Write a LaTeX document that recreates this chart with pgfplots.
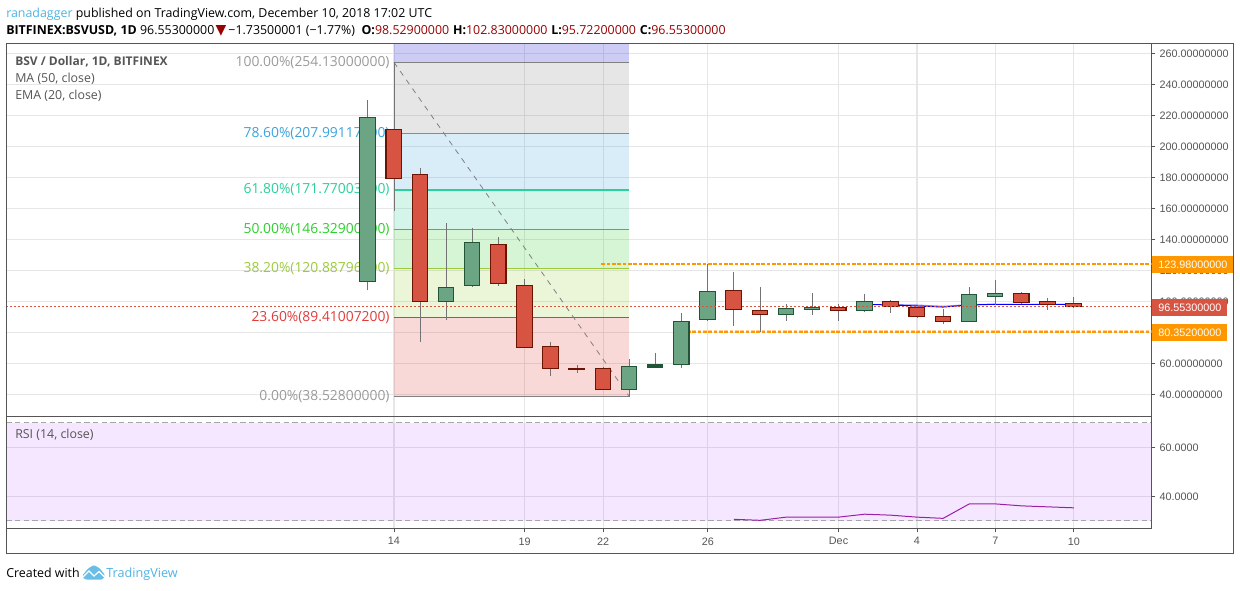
\documentclass[border=0pt]{standalone}
\usepackage{fontspec}
\usepackage{pgfplots}
\pgfplotsset{compat=1.18}
\usepackage{pgfplotstable}
\setmainfont{Open Sans}
\newfontfamily\arl{Liberation Sans}
\newfontfamily\djv{DejaVu Sans}
\definecolor{frameC}{HTML}{555555}
\definecolor{tickC}{HTML}{555555}
\definecolor{gridC}{HTML}{E6E6E6}
\definecolor{upF}{HTML}{6BA583}
\definecolor{upB}{HTML}{225437}
\definecolor{dnF}{HTML}{D75442}
\definecolor{dnB}{HTML}{6B1404}
\definecolor{wickC}{HTML}{737375}
\definecolor{orangeC}{HTML}{FF9800}
\definecolor{fibGray}{HTML}{9A9A9A}
\definecolor{fibBlue}{HTML}{3BA3DB}
\definecolor{fibTeal}{HTML}{2BCF9B}
\definecolor{fibGreen}{HTML}{2BCF2B}
\definecolor{fibLime}{HTML}{9ACB3B}
\definecolor{fibRed}{HTML}{E03B3B}
\definecolor{fibTop}{HTML}{0000C8}
\definecolor{rsiBand}{HTML}{9915FF}
\definecolor{tvBlue}{HTML}{4FB3E3}
\definecolor{rsiC}{HTML}{9C1FA8}
\definecolor{headRed}{HTML}{990000}
\pgfplotstableread{
d  l     h
13 107.3 229.9
14 158.5 254.13
15 73.9  186.0
16 88.2  150.5
17 109.2 147.3
18 110.0 141.5
19 70.0  114.4
20 52.0  73.7
21 53.7  58.9
22 43.0  57.6
23 38.53 62.8
24 57.2  66.6
25 57.0  92.4
26 87.3  123.98
27 84.1  118.9
28 80.35 109.2
29 87.3  98.3
30 91.2  105.4
31 87.3  98.3
32 93.1  104.7
33 92.4  100.8
34 89.2  96.1
35 85.4  95.0
36 86.8  109.2
37 97.4  113.7
38 98.3  105.8
39 94.6  102.1
40 95.722 102.83
}\wicks
\newcommand\body[4]{%
  \pgfmathsetmacro\xa{#2-0.012-0.295}\pgfmathsetmacro\xb{#2-0.012+0.295}%
  \addplot[#1] coordinates {(\xa,#3)(\xb,#3)(\xb,#4)(\xa,#4)} -- cycle;}
\tikzset{fibt/.style={anchor=east,inner sep=0pt,font=\fontsize{10.4}{12}\selectfont,text=#1}}
\pgfplotsset{
  up/.style={fill=upF,draw=upB,line width=0.85pt,forget plot},
  dn/.style={fill=dnF,draw=dnB,line width=0.85pt,forget plot},
  pane/.style={
    scale only axis, width=858.75pt, anchor=south west,
    xmin=-0.826, xmax=42.96,
    xtick={14,19,22,26,31,34,37,40}, xtick pos=bottom,
    grid=major, major grid style={draw=gridC,line width=0.8pt},
    ytick pos=right, yticklabel pos=right,
    axis line style={draw=frameC,line width=0.8pt},
    tick align=outside, major tick length=3pt,
    tick style={draw=frameC,line width=0.7pt},
    yticklabel style={anchor=west,xshift=-0.3pt,text=tickC,font=\arl\fontsize{8.1}{10}\selectfont},
  },
  fibf/.style={draw=none,fill=#1,fill opacity=0.2,forget plot},
  fibl/.style={draw=#1,line width=0.85pt,forget plot},
}
\begin{document}
\begin{tikzpicture}
\path[use as bounding box] (0,0) rectangle (930pt,-442.5pt);
\begin{axis}[pane, at={(4.725pt,-312.225pt)}, height=279.75pt,
  ymin=25.81, ymax=266.45,
  ytick={40,60,80,100,120,140,160,180,200,220,240,260},
  xticklabels={}, x tick style={draw=none},
  yticklabel style={/pgf/number format/.cd,fixed,fixed zerofill,precision=8,1000 sep={},assume math mode=true},
]
% Fibonacci zones
\addplot[fibf=fibTop] coordinates {(14,254.13)(23,254.13)(23,266.45)(14,266.45)} -- cycle;
\addplot[fibf=gray] coordinates {(14,207.991)(23,207.991)(23,254.13)(14,254.13)} -- cycle;
\addplot[fibf=fibBlue] coordinates {(14,171.77)(23,171.77)(23,207.991)(14,207.991)} -- cycle;
\addplot[fibf=fibTeal] coordinates {(14,146.329)(23,146.329)(23,171.77)(14,171.77)} -- cycle;
\addplot[fibf=fibGreen] coordinates {(14,120.888)(23,120.888)(23,146.329)(14,146.329)} -- cycle;
\addplot[fibf=fibLime] coordinates {(14,89.41)(23,89.41)(23,120.888)(14,120.888)} -- cycle;
\addplot[fibf=fibRed] coordinates {(14,38.528)(23,38.528)(23,89.41)(14,89.41)} -- cycle;
% Fibonacci levels
\addplot[fibl=gray] coordinates {(14,254.13)(23,254.13)};
\addplot[fibl=fibBlue] coordinates {(14,207.991)(23,207.991)};
\addplot[fibl=fibTeal] coordinates {(14,171.77)(23,171.77)};
\addplot[fibl=fibGreen] coordinates {(14,146.329)(23,146.329)};
\addplot[fibl=fibLime] coordinates {(14,120.888)(23,120.888)};
\addplot[fibl=fibRed] coordinates {(14,89.41)(23,89.41)};
\addplot[draw=gray,line width=0.9pt,forget plot] coordinates {(14,38.528)(23,38.528)(23,44)};
\addplot[draw=gray,line width=0.6pt,dash pattern=on 4pt off 4pt,forget plot] coordinates {(14,254.13)(23,38.528)};
\node[fibt=fibGray] at (axis cs:13.84,254.13) {100.00\%(254.13000000)};
\node[fibt=fibBlue] at (axis cs:13.84,207.991) {78.60\%(207.99117200)};
\node[fibt=fibTeal] at (axis cs:13.84,171.77) {61.80\%(171.77003600)};
\node[fibt=fibGreen] at (axis cs:13.84,146.329) {50.00\%(146.32900000)};
\node[fibt=fibLime] at (axis cs:13.84,120.888) {38.20\%(120.88796400)};
\node[fibt=fibRed] at (axis cs:13.84,89.41) {23.60\%(89.41007200)};
\node[fibt=fibGray] at (axis cs:13.84,38.528) {0.00\%(38.52800000)};
% support / resistance
\addplot[draw=orangeC!45,line width=1.9pt,dash pattern=on 2.8pt off 1.2pt,forget plot] coordinates {(21.93,123.98)(42.96,123.98)};
\addplot[draw=orangeC,line width=1.15pt,dash pattern=on 2.8pt off 1.2pt,forget plot] coordinates {(21.93,123.98)(42.96,123.98)};
\addplot[draw=orangeC!45,line width=1.9pt,dash pattern=on 2.8pt off 1.2pt,forget plot] coordinates {(25,80.352)(42.96,80.352)};
\addplot[draw=orangeC,line width=1.15pt,dash pattern=on 2.8pt off 1.2pt,forget plot] coordinates {(25,80.352)(42.96,80.352)};
% moving averages
\addplot[draw=blue!45,line width=0.8pt,forget plot] coordinates {(33,97.9)(34,97.6)(35,96.8)(36,97.9)(37,98.1)};
\addplot[draw=blue,line width=0.75pt,forget plot] coordinates {(32,98.1)(33,97.6)(34,97.0)(35,96.3)(36,97.6)(37,98.1)(38,98.1)(39,98.1)(40,98.1)};
% wicks
\addplot[draw=none,mark=none,forget plot,
  error bars/.cd,y dir=plus,y explicit,error mark=none,
  error bar style={draw=wickC,line width=0.75pt}]
  table[x=d,y=l,y error expr=\thisrow{h}-\thisrow{l}] {\wicks};
% candle bodies: open/close
\body{up}{13}{112.6}{218.7}
\body{dn}{14}{211.0}{179.1}
\body{dn}{15}{181.9}{99.8}
\body{up}{16}{99.8}{109.0}
\body{up}{17}{110.0}{138.0}
\body{dn}{18}{136.8}{111.4}
\body{dn}{19}{110.3}{70.0}
\body{dn}{20}{71.0}{56.5}
\body{dn}{21}{56.8}{55.9}
\body{dn}{22}{56.8}{43.0}
\body{up}{23}{43.0}{58.0}
\body{up}{24}{57.6}{58.9}
\body{up}{25}{59.1}{87.1}
\body{up}{26}{88.1}{106.4}
\body{dn}{27}{107.1}{94.6}
\body{dn}{28}{94.2}{91.4}
\body{up}{29}{91.4}{95.5}
\body{up}{30}{94.6}{96.1}
\body{dn}{31}{96.1}{93.9}
\body{up}{32}{93.9}{100.0}
\body{dn}{33}{100.0}{96.5}
\body{dn}{34}{96.1}{90.0}
\body{dn}{35}{90.3}{87.1}
\body{up}{36}{86.8}{104.5}
\body{up}{37}{103.0}{105.2}
\body{dn}{38}{105.2}{99.4}
\body{dn}{39}{100.0}{98.1}
\body{dn}{40}{98.529}{96.553}
% last price
\addplot[draw=dnF,line width=0.65pt,dash pattern=on 1.5pt off 1.5pt,forget plot] coordinates {(-0.826,96.553)(42.96,96.553)};
\end{axis}
\begin{axis}[pane, at={(4.725pt,-396.225pt)}, height=84pt,
  ymin=26.94, ymax=72.65,
  ytick={40,60},
  xticklabels={14,19,22,26,Dec,4,7,10},
  xticklabel style={text=tickC,font=\arl\fontsize{8.1}{10}\selectfont,yshift=-0.4pt},
  yticklabel style={/pgf/number format/.cd,fixed,fixed zerofill,precision=4,1000 sep={},assume math mode=true},
]
\addplot[draw=none,fill=rsiBand,fill opacity=0.1,forget plot] coordinates {(-0.826,30)(42.96,30)(42.96,70)(-0.826,70)} -- cycle;
\addplot[draw=gray!70,line width=0.6pt,dash pattern=on 4pt off 2.5pt,forget plot] coordinates {(-0.826,70)(42.96,70)};
\addplot[draw=gray!70,line width=0.6pt,dash pattern=on 4pt off 2.5pt,forget plot] coordinates {(-0.826,30)(42.96,30)};
\addplot[draw=rsiC,line width=0.75pt,forget plot] coordinates {(27,30.6)(28,30.2)(29,31.5)(30,31.5)(31,31.5)(32,32.7)(33,32.3)(34,31.5)(35,31.0)(36,36.9)(37,36.9)(38,36.1)(39,35.7)(40,35.3)};
\end{axis}
\begin{scope}[x=0.75pt,y=-0.75pt]
\draw[frameC,line width=0.8pt] (6.3,43.3) rectangle (1233.3,553.3);
% last value tags
\fill[orangeC] (1151.5,256) rectangle (1233,272.7);
\fill[dnF] (1151.5,299) rectangle (1227,315.7);
\fill[orangeC] (1151.5,324.3) rectangle (1227,340.7);
\begin{scope}[every node/.style={anchor=base west,inner sep=0pt,text=white,font=\arl\fontsize{8.1}{10}\selectfont}]
\node at (1158,268.3) {123.98000000};
\node at (1158,311.3) {96.55300000};
\node at (1158,336.5) {80.35200000};
\end{scope}
\begin{scope}[every node/.style={anchor=base west,inner sep=0pt,font=\fontsize{9.3}{12}\selectfont}]
\node at (6,17) {\textcolor{tvBlue}{ranadagger} published on TradingView.com, December 10, 2018 17:02 UTC};
\node at (6,34) {\textbf{BITFINEX:BSVUSD, 1D}\hspace{2.5pt}96.55300000\hspace{1pt}{\djv\fontsize{10.5}{10}\selectfont\textcolor{headRed}{▼}}\hspace{1.5pt}−1.73500001 (−1.77\%)\hspace{2.5pt} \textbf{O:}\textcolor{headRed}{98.52900000}\hspace{0.5pt} \textbf{H:}\textcolor{headRed}{102.83000000}\hspace{0.5pt} \textbf{L:}\textcolor{headRed}{95.72200000}\hspace{0.5pt} \textbf{C:}\textcolor{headRed}{96.55300000}};
\node[text=tickC,font=\fontsize{9.0}{12}\selectfont] at (15,65) {\textbf{BSV / Dollar, 1D, BITFINEX}};
\node[text=tickC] at (15,82) {MA (50, close)};
\node[text=tickC] at (15,99) {EMA (20, close)};
\node[text=tickC] at (15,438) {RSI (14, close)};
\node at (6,577) {Created with};
\node[text=tvBlue,font=\fontsize{9.5}{12}\selectfont] at (106,577) {TradingView};
\end{scope}
% logo
\fill[tvBlue!85,rounded corners=1pt] (82,576) -- (88,568.5) -- (94,565) -- (100,568.5) -- (105,575) -- (103,579.5) -- (85,579.5) -- cycle;
\draw[white,line width=0.9pt] (83,577) -- (89,571) -- (94,576) -- (99,571.5) -- (105,577.5);
\end{scope}
\end{tikzpicture}
\end{document}
